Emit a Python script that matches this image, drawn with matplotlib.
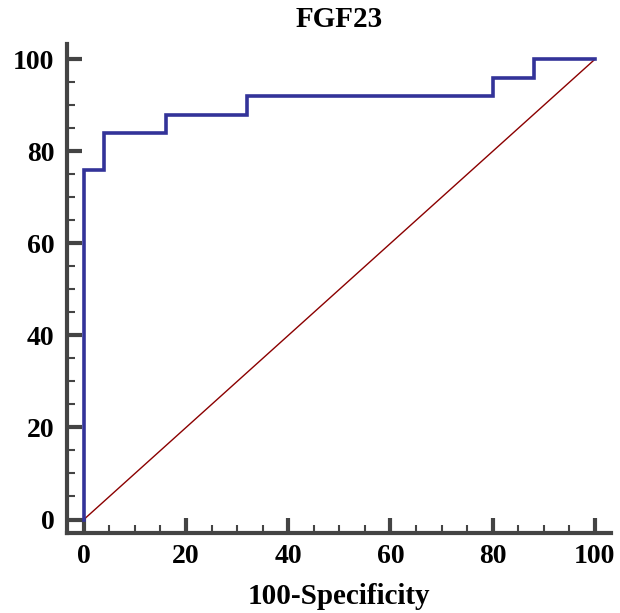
import matplotlib.pyplot as plt
from matplotlib.ticker import MultipleLocator

# ROC curve points (100-Specificity, Sensitivity)
fpr = [0, 0, 4, 4, 16, 16, 32, 32, 80, 80, 88, 88, 100]
tpr = [0, 76, 76, 84, 84, 88, 88, 92, 92, 96, 96, 100, 100]
diag = [0, 100]

plt.rcParams['font.family'] = ['Liberation Serif', 'DejaVu Serif']
plt.rcParams['font.weight'] = 'bold'

fig = plt.figure(figsize=(6.2, 6.13), dpi=100)
ax = fig.add_axes([0.108, 0.130, 0.877, 0.798])

ax.plot(diag, diag, color='#8b0000', lw=1.0)
ax.plot(fpr, tpr, color='#333399', lw=2.6, solid_joinstyle='miter')

ax.set_xlim(-3.3, 103.1)
ax.set_ylim(-3.0, 103.3)

for s in ['top', 'right']:
    ax.spines[s].set_visible(False)
for s in ['left', 'bottom']:
    ax.spines[s].set_linewidth(3)
    ax.spines[s].set_color('#444444')

ax.xaxis.set_major_locator(MultipleLocator(20))
ax.xaxis.set_minor_locator(MultipleLocator(5))
ax.yaxis.set_major_locator(MultipleLocator(20))
ax.yaxis.set_minor_locator(MultipleLocator(5))
ax.tick_params(which='major', direction='in', length=11, width=3, color='#444444',
               labelsize=20, pad=8)
ax.tick_params(which='minor', direction='in', length=6, width=1.5, color='#444444')
ax.tick_params(axis='y', which='major', pad=9)

ax.set_title('FGF23', fontsize=21, fontweight='bold', pad=12)
ax.set_xlabel('100-Specificity', fontsize=21, fontweight='bold', labelpad=10)

fig.savefig('out.png', dpi=100)
